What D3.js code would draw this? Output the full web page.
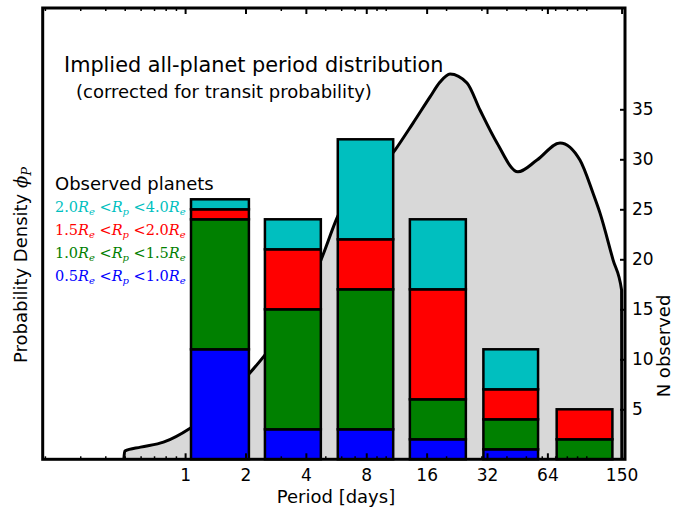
<!DOCTYPE html>
<html>
<head>
<meta charset="utf-8">
<script src="https://cdn.jsdelivr.net/npm/d3@7"></script>
<style>
  body { margin: 0; background: #fff; }
  text { font-family: "DejaVu Sans", sans-serif; fill: #000; }
  .math { font-family: "DejaVu Serif", serif; }
</style>
</head>
<body>
<div id="container"></div>
<script>
var WIDTH = 697,
	HEIGHT = 508,
	LEFT = 42.7,
	RIGHT = 625,
	TOP = 8,
	BOTTOM = 459.3;

// x axis (log period) tick labels
var periodTicks = [1, 2, 4, 8, 16, 32, 64, 150];
// right axis (counts) tick labels
var countTicks = [5, 10, 15, 20, 25, 30, 35];

// period bins of the observed histogram
var binLo = [1.07, 2.5, 5.77, 13.2, 30.7, 71.2];
var binHi = [2.08, 4.75, 10.9, 25.1, 57.5, 135];

// observed counts per size class (stacked bottom to top)
var nTiny = [11, 3, 3, 2, 1, 0];    // 0.5 - 1.0 Re
var nSmall = [13, 12, 14, 4, 3, 2]; // 1.0 - 1.5 Re
var nMid = [1, 6, 5, 11, 3, 3];     // 1.5 - 2.0 Re
var nBig = [1, 3, 10, 7, 4, 0];     // 2.0 - 4.0 Re

// implied all-planet period distribution (arbitrary density units)
var curvePeriod = [0.495, 0.5, 0.6, 0.78, 1.06, 2.06, 2.48, 4.76, 5.72, 11.13, 13.69, 16.64, 18.66, 20.93,
	25.44, 29.53, 35.9, 45.66, 56.8, 74.0, 93.0, 108, 117, 136, 150, 150.4];
var curveDensity = [0, 0.018, 0.027, 0.038, 0.069, 0.187, 0.229, 0.442, 0.535, 0.685, 0.745, 0.803, 0.836, 0.854,
	0.834, 0.774, 0.701, 0.637, 0.663, 0.701, 0.663, 0.59, 0.546, 0.442, 0.375, 0];

var classKeys = ['tiny', 'small', 'mid', 'big'];
var classColors = { tiny: '#0000ff', small: '#008000', mid: '#ff0000', big: '#00bfbf' };
var legendLo = ['2.0', '1.5', '1.0', '0.5'];
var legendHi = ['4.0', '2.0', '1.5', '1.0'];
var legendKeys = ['big', 'mid', 'small', 'tiny'];

var xScale = d3.scaleLog().base(2).domain([0.195, 156]).range([LEFT, RIGHT]);
var nScale = d3.scaleLinear().domain([0, 45.13]).range([BOTTOM, TOP]);
var dScale = d3.scaleLinear().domain([0, 1]).range([BOTTOM, TOP]);

function drawCurve(svg) {
	var pts = curvePeriod.map(function (p, i) { return [p, curveDensity[i]]; });
	var area = d3.area()
		.x(function (d) { return xScale(d[0]); })
		.y0(BOTTOM)
		.y1(function (d) { return dScale(d[1]); })
		.curve(d3.curveMonotoneX);
	var line = d3.line()
		.x(function (d) { return xScale(d[0]); })
		.y(function (d) { return dScale(d[1]); })
		.curve(d3.curveMonotoneX);
	svg.append('path').attr('d', area(pts)).attr('fill', '#d8d8d8');
	svg.append('path').attr('d', line(pts))
		.attr('fill', 'none').attr('stroke', '#000').attr('stroke-width', 3)
		.attr('stroke-linejoin', 'round');
}

function drawBars(svg) {
	var rows = binLo.map(function (lo, i) {
		return { lo: lo, hi: binHi[i], tiny: nTiny[i], small: nSmall[i], mid: nMid[i], big: nBig[i] };
	});
	var series = d3.stack().keys(classKeys)(rows);
	svg.selectAll('g.layer').data(series).enter()
		.append('g').attr('class', 'layer')
		.attr('fill', function (s) { return classColors[s.key]; })
		.selectAll('rect').data(function (s) { return s.filter(function (d) { return d[1] > d[0]; }); })
		.enter().append('rect')
		.attr('x', function (d) { return xScale(d.data.lo); })
		.attr('width', function (d) { return xScale(d.data.hi) - xScale(d.data.lo); })
		.attr('y', function (d) { return nScale(d[1]); })
		.attr('height', function (d) { return nScale(d[0]) - nScale(d[1]); })
		.attr('stroke', '#000').attr('stroke-width', 2.5);
}

function drawAxes(svg) {
	var minor = d3.scaleLog().domain(xScale.domain()).ticks()
		.filter(function (t) { return periodTicks.indexOf(t) < 0; });

	var bottom = d3.axisBottom(xScale).tickValues(periodTicks).tickSize(-6)
		.tickFormat(d3.format('d')).tickPadding(10);
	var gb = svg.append('g').attr('transform', 'translate(0,' + BOTTOM + ')').call(bottom);
	gb.select('.domain').remove();
	gb.selectAll('line').attr('stroke-width', 2);
	gb.selectAll('text').attr('font-size', 17).attr('font-family', 'DejaVu Sans');

	var gbm = svg.append('g').attr('transform', 'translate(0,' + BOTTOM + ')')
		.call(d3.axisBottom(xScale).tickValues(minor).tickSize(-3).tickFormat(''));
	gbm.select('.domain').remove();
	gbm.selectAll('line').attr('stroke-width', 1.5);

	var gt = svg.append('g').attr('transform', 'translate(0,' + TOP + ')')
		.call(d3.axisTop(xScale).tickValues(periodTicks).tickSize(-6).tickFormat(''));
	gt.select('.domain').remove();
	gt.selectAll('line').attr('stroke-width', 2);
	var gtm = svg.append('g').attr('transform', 'translate(0,' + TOP + ')')
		.call(d3.axisTop(xScale).tickValues(minor).tickSize(-3).tickFormat(''));
	gtm.select('.domain').remove();
	gtm.selectAll('line').attr('stroke-width', 1.5);

	var right = d3.axisRight(nScale).tickValues(countTicks).tickSize(-5).tickPadding(7);
	var gr = svg.append('g').attr('transform', 'translate(' + RIGHT + ',0)').call(right);
	gr.select('.domain').remove();
	gr.selectAll('line').attr('stroke-width', 2);
	gr.selectAll('text').attr('font-size', 17).attr('font-family', 'DejaVu Sans');

	svg.append('rect')
		.attr('x', LEFT).attr('y', TOP)
		.attr('width', RIGHT - LEFT).attr('height', BOTTOM - TOP)
		.attr('fill', 'none').attr('stroke', '#000').attr('stroke-width', 3);
}

function drawText(svg) {
	svg.append('text').attr('x', 64).attr('y', 72).attr('font-size', 20.8)
		.text('Implied all-planet period distribution');
	svg.append('text').attr('x', 76).attr('y', 98).attr('font-size', 18)
		.text('(corrected for transit probability)');

	svg.append('text').attr('x', 336).attr('y', 503).attr('font-size', 18)
		.attr('text-anchor', 'middle').text('Period [days]');

	svg.append('text').attr('transform', 'translate(670,346) rotate(-90)')
		.attr('font-size', 18).attr('text-anchor', 'middle').text('N observed');

	var yl = svg.append('text').attr('transform', 'translate(27,265) rotate(-90)')
		.attr('font-size', 18).attr('text-anchor', 'middle');
	yl.append('tspan').text('Probability Density ');
	yl.append('tspan').attr('class', 'math').attr('font-style', 'italic').text('\u03D5');
	yl.append('tspan').attr('class', 'math').attr('font-style', 'italic')
		.attr('font-size', 13).attr('dy', 4).text('P');

	svg.append('text').attr('x', 55).attr('y', 190).attr('font-size', 18).text('Observed planets');

	legendKeys.forEach(function (k, i) {
		var t = svg.append('text').attr('class', 'math')
			.attr('x', 55).attr('y', 212 + i * 23)
			.attr('font-size', 14.5)
			.style('fill', classColors[k]);
		t.append('tspan').text(legendLo[i]);
		t.append('tspan').attr('font-style', 'italic').text('R');
		t.append('tspan').attr('font-style', 'italic').attr('font-size', 10).attr('dy', 3).text('e');
		t.append('tspan').attr('dy', -3).text(' <');
		t.append('tspan').attr('font-style', 'italic').text('R');
		t.append('tspan').attr('font-style', 'italic').attr('font-size', 10).attr('dy', 3).text('p');
		t.append('tspan').attr('dy', -3).text(' <' + legendHi[i]);
		t.append('tspan').attr('font-style', 'italic').text('R');
		t.append('tspan').attr('font-style', 'italic').attr('font-size', 10).attr('dy', 3).text('e');
	});
}

function drawChart() {
	var svg = d3.select('#container')
		.append('svg')
		.attr('width', WIDTH)
		.attr('height', HEIGHT);
	drawCurve(svg);
	drawBars(svg);
	drawAxes(svg);
	drawText(svg);
}

window.onload = drawChart;
</script>
</body>
</html>
